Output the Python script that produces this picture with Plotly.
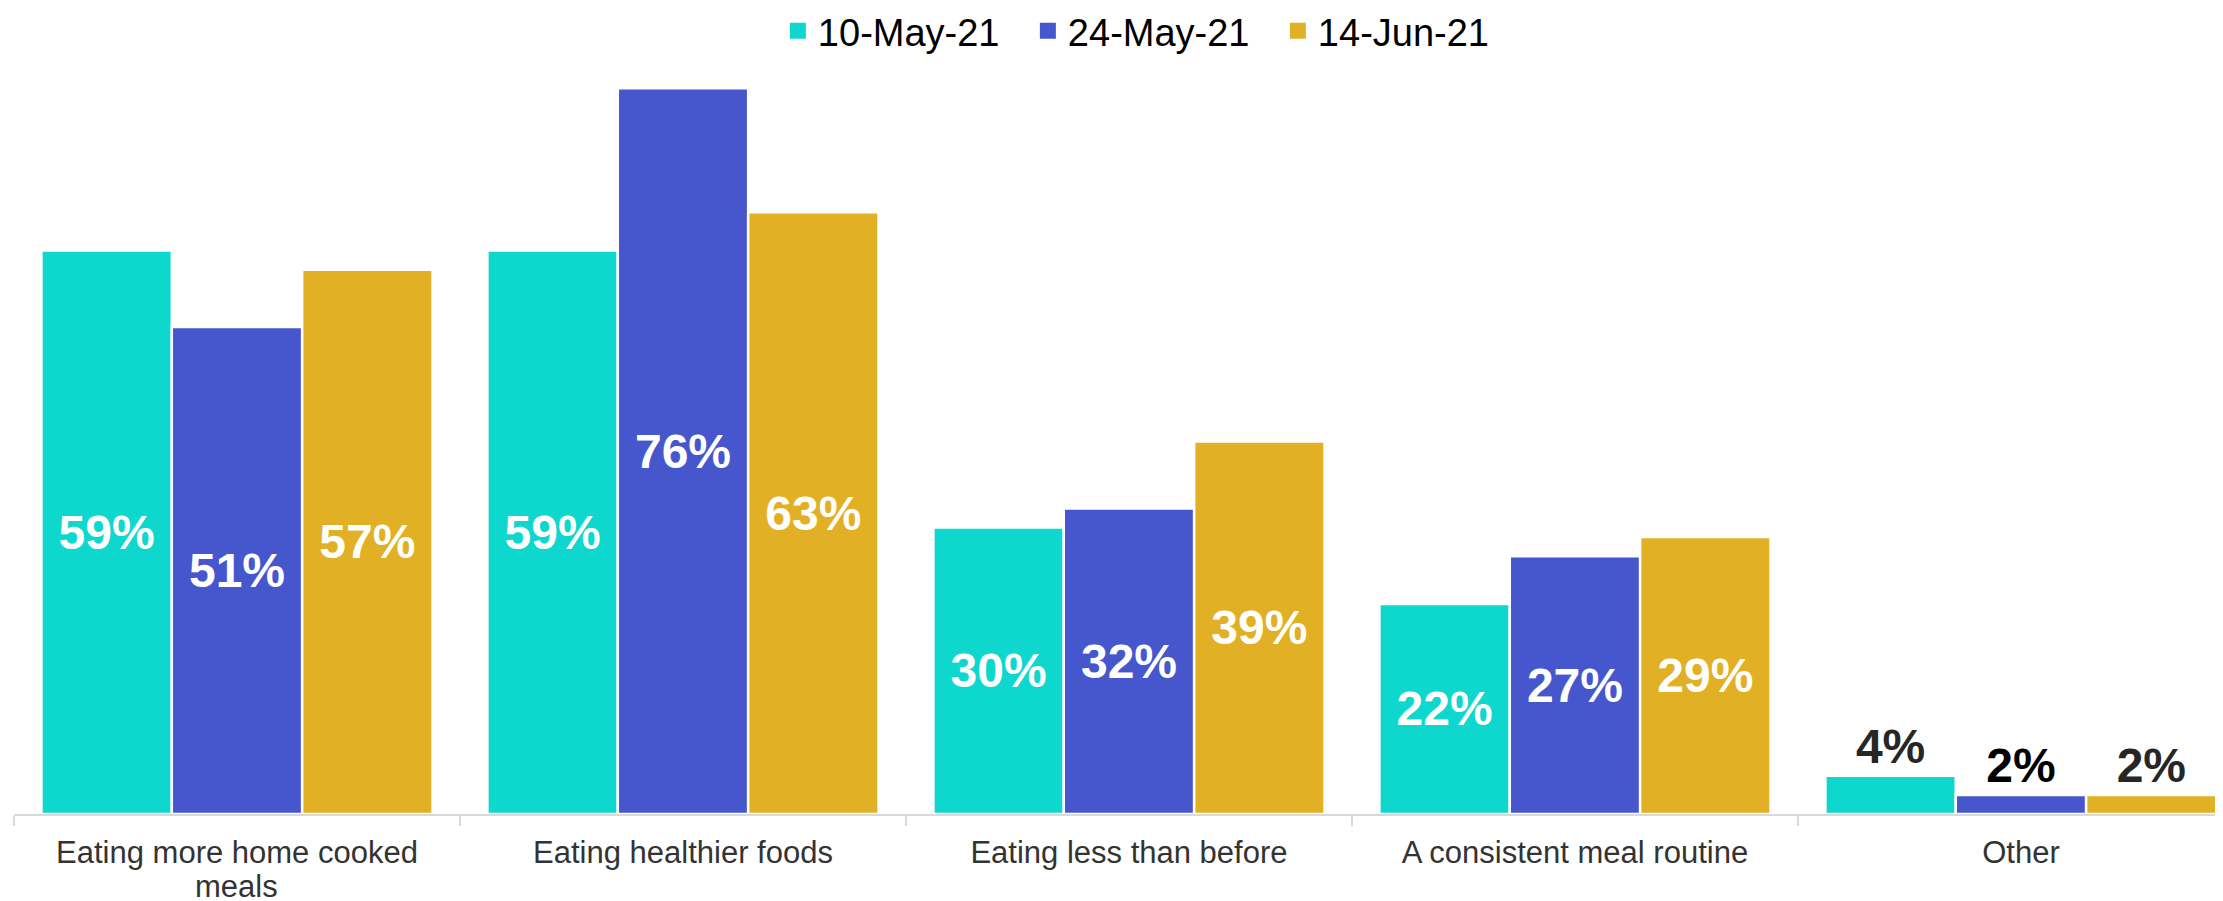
import plotly.graph_objects as go

categories = ["Eating more home cooked meals", "Eating healthier foods",
              "Eating less than before", "A consistent meal routine", "Other"]
tick_labels = ["Eating more home cooked", "Eating healthier foods",
               "Eating less than before", "A consistent meal routine", "Other"]
wrapped_tail = "meals"
series_names = ["10-May-21", "24-May-21", "14-Jun-21"]
may10 = [59, 59, 30, 22, 4]
may24 = [51, 76, 32, 27, 2]
jun14 = [57, 63, 39, 29, 2]
colors = ["#0ED7CD", "#4657CD", "#E1B024"]
outside_colors = ["#262626", "#000000", "#262626"]

FONT = "Arial, Liberation Sans"
fig = go.Figure()
for name, vals, col, ocol in zip(series_names, [may10, may24, jun14], colors, outside_colors):
    positions = ["outside" if c == "Other" else "inside" for c in categories]
    tcolors = [ocol if c == "Other" else "white" for c in categories]
    fig.add_trace(go.Bar(
        name=name, x=categories, y=vals, showlegend=False,
        marker=dict(color=col, line=dict(color="white", width=2.5)),
        text=[f"{v}%" for v in vals],
        textposition=positions,
        insidetextanchor="middle",
        textfont=dict(family=FONT, size=48, color=tcolors, weight="bold"),
        cliponaxis=False,
    ))
# legend entries with larger square swatches
for name, col in zip(series_names, colors):
    fig.add_trace(go.Scatter(
        name=name, x=[None], y=[None], mode="markers",
        marker=dict(symbol="square", size=18, color=col),
    ))

fig.update_layout(
    width=2223, height=901,
    barmode="group", bargap=0.123, bargroupgap=0,
    plot_bgcolor="white", paper_bgcolor="white",
    margin=dict(l=6, r=0, t=42, b=95, autoexpand=False),
    font=dict(family=FONT, color="#333333"),
    legend=dict(orientation="h", x=0.5137, xanchor="center",
                yref="container", y=1 - 23 / 901, yanchor="middle",
                font=dict(size=38, color="#000000"), traceorder="normal",
                itemwidth=30, entrywidth=205, borderwidth=0),
    annotations=[dict(
        x=categories[0], xref="x", y=0, yref="paper", yanchor="top",
        yshift=-53, text=wrapped_tail, showarrow=False,
        font=dict(family=FONT, size=31, color="#333333"),
    )],
)
fig.update_xaxes(
    range=[-0.5, 4.471],
    automargin=False,
    tickmode="array", tickvals=categories, ticktext=tick_labels,
    showline=True, linecolor="#D9D9D9", linewidth=2,
    ticks="outside", tickson="boundaries", ticklen=10, tickcolor="#D9D9D9", tickwidth=2,
    ticklabelstandoff=10,
    tickfont=dict(size=31, color="#333333"),
    showgrid=False,
)
fig.update_yaxes(range=[0, 80], visible=False, showgrid=False, automargin=False)

fig.write_html("out.html")
